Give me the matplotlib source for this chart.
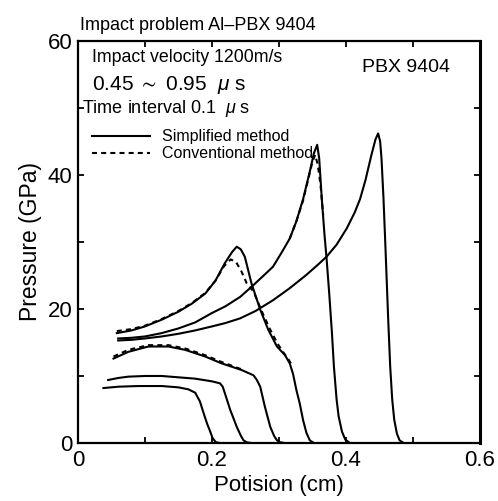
import matplotlib
matplotlib.use('Agg')
import matplotlib.pyplot as plt
from matplotlib.ticker import MultipleLocator

plt.rcParams['font.family'] = ['Liberation Sans', 'DejaVu Sans']
plt.rcParams['mathtext.fontset'] = 'custom'
plt.rcParams['mathtext.rm'] = 'Liberation Sans'
plt.rcParams['mathtext.it'] = 'Liberation Sans:italic'
plt.rcParams['mathtext.fallback'] = 'stixsans'

# simplified method, t = 0.45 ... 0.95 us
x_045 = [0.038, 0.060, 0.090, 0.125, 0.150, 0.165, 0.175, 0.182, 0.188, 0.193, 0.197, 0.201, 0.206, 0.212]
p_045 = [8.2, 8.4, 8.5, 8.5, 8.3, 8.0, 7.5, 6.2, 4.3, 2.8, 1.8, 0.7, 0.1, 0.0]

x_055 = [0.045, 0.060, 0.075, 0.100, 0.125, 0.150, 0.175, 0.200, 0.212, 0.216, 0.219, 0.227, 0.237, 0.243, 0.247, 0.252, 0.258]
p_055 = [9.4, 9.7, 9.9, 10.0, 10.0, 9.8, 9.6, 9.2, 8.9, 8.4, 7.5, 5.0, 2.4, 1.1, 0.4, 0.1, 0.0]

x_065 = [0.053, 0.075, 0.105, 0.135, 0.160, 0.190, 0.214, 0.244, 0.262, 0.267, 0.272, 0.279, 0.287, 0.293, 0.297, 0.302, 0.308]
p_065 = [12.6, 13.6, 14.4, 14.4, 13.9, 12.9, 11.9, 10.9, 10.1, 9.4, 8.4, 5.4, 2.4, 1.0, 0.4, 0.1, 0.0]

x_075 = [0.058, 0.080, 0.100, 0.125, 0.150, 0.170, 0.190, 0.205, 0.219, 0.230, 0.237, 0.243, 0.249, 0.259,
         0.272, 0.284, 0.297, 0.309, 0.316, 0.321, 0.326, 0.331, 0.336, 0.341, 0.346, 0.352]
p_075 = [16.4, 16.8, 17.4, 18.4, 19.6, 20.8, 22.3, 24.2, 26.8, 28.5, 29.3, 28.9, 27.8, 23.8,
         19.9, 16.9, 14.4, 13.1, 11.9, 10.3, 7.9, 5.9, 3.4, 1.5, 0.4, 0.0]

x_085 = [0.060, 0.080, 0.100, 0.125, 0.150, 0.175, 0.200, 0.220, 0.242, 0.259, 0.274, 0.291, 0.305, 0.316,
         0.326, 0.336, 0.346, 0.352, 0.357, 0.360, 0.364, 0.368, 0.371, 0.375, 0.379, 0.382, 0.386, 0.389,
         0.394, 0.399, 0.406]
p_085 = [15.6, 15.7, 15.9, 16.4, 17.1, 18.0, 19.4, 20.4, 21.8, 23.3, 24.7, 26.3, 28.6, 30.5,
         33.1, 36.4, 40.5, 43.2, 44.5, 42.5, 36.3, 31.0, 27.6, 22.3, 16.5, 11.4, 6.5, 4.0,
         1.7, 0.5, 0.0]

x_095 = [0.060, 0.080, 0.100, 0.125, 0.150, 0.175, 0.200, 0.220, 0.242, 0.265, 0.291, 0.316, 0.341, 0.358,
         0.371, 0.386, 0.401, 0.413, 0.421, 0.429, 0.438, 0.444, 0.448, 0.451, 0.453, 0.456, 0.459, 0.463,
         0.466, 0.469, 0.472, 0.476, 0.480, 0.486]
p_095 = [15.3, 15.4, 15.6, 15.9, 16.3, 16.8, 17.4, 17.9, 18.6, 19.7, 21.3, 23.1, 25.1, 26.6,
         27.8, 29.6, 32.0, 34.4, 36.4, 39.2, 43.0, 45.3, 46.2, 45.0, 42.5, 36.5, 29.0, 18.5,
         11.4, 6.5, 3.5, 1.4, 0.4, 0.0]

# conventional method (only where it separates from the simplified one)
xc_065 = [0.053, 0.075, 0.105, 0.135, 0.160, 0.190, 0.214, 0.244]
pc_065 = [12.9, 13.9, 14.6, 14.6, 14.1, 13.1, 12.1, 11.0]

xc_075 = [0.058, 0.080, 0.100, 0.125, 0.150, 0.170, 0.190, 0.205, 0.218, 0.228, 0.236, 0.244, 0.252, 0.262,
          0.275, 0.287, 0.298, 0.306, 0.314, 0.320]
pc_075 = [16.7, 17.0, 17.5, 18.5, 19.7, 20.9, 22.4, 24.2, 26.4, 27.4, 27.0, 25.6, 23.8, 22.6,
          19.5, 16.9, 14.8, 13.6, 12.5, 11.5]

xc_085 = [0.316, 0.326, 0.336, 0.344, 0.350, 0.354, 0.358, 0.362, 0.366]
pc_085 = [30.5, 33.1, 36.2, 39.5, 42.0, 43.0, 41.5, 38.5, 34.0]

simplified = [(x_045, p_045), (x_055, p_055), (x_065, p_065),
              (x_075, p_075), (x_085, p_085), (x_095, p_095)]
conventional = [(xc_065, pc_065), (xc_075, pc_075), (xc_085, pc_085)]

fig = plt.figure(figsize=(4.98, 5.01), dpi=100)
ax = fig.add_axes([0.1566, 0.1158, 0.8072, 0.8024])

lw = 1.5
for xs, ps in simplified:
    ax.plot(xs, ps, color='black', lw=lw, solid_joinstyle='round')
for xs, ps in conventional:
    ax.plot(xs, ps, color='black', lw=lw, dashes=(2.4, 2.0))

ax.set_xlim(0, 0.6)
ax.set_ylim(0, 60)
ax.xaxis.set_major_locator(MultipleLocator(0.2))
ax.xaxis.set_minor_locator(MultipleLocator(0.1))
ax.yaxis.set_major_locator(MultipleLocator(20))
ax.yaxis.set_minor_locator(MultipleLocator(10))
ax.xaxis.set_major_formatter(plt.FuncFormatter(lambda v, _: '0' if v == 0 else f'{v:.1f}'))
ax.tick_params(which='both', direction='in', length=4, width=1.3,
               top=True, right=True, labelsize=16)
ax.tick_params(axis='x', pad=5)
ax.tick_params(axis='y', pad=4)
for s in ax.spines.values():
    s.set_linewidth(1.6)
ax.spines['right'].set_linewidth(2.2)

ax.set_xlabel('Potision (cm)', fontsize=16, labelpad=3)
ax.set_ylabel('Pressure (GPa)', fontsize=16.5, labelpad=4)

fig.text(0.161, 0.950, 'Impact problem Al\u2013PBX 9404', fontsize=13, va='center', ha='left')
ax.text(0.035, 0.960, 'Impact velocity 1200m/s', fontsize=12.8, transform=ax.transAxes, va='center')
ax.text(0.035, 0.891, '0.45 $\\sim$ 0.95  $\\mathit{\u03bc}$ s', fontsize=15, transform=ax.transAxes, va='center')
ax.text(0.010, 0.833, 'Time interval 0.1  $\\mathit{\u03bc}$ s', fontsize=13, transform=ax.transAxes, va='center')
ax.text(0.706, 0.935, 'PBX 9404', fontsize=14, transform=ax.transAxes, va='center')

# legend drawn by hand
ax.plot([0.034, 0.179], [0.763, 0.763], color='black', lw=lw, transform=ax.transAxes)
ax.plot([0.034, 0.179], [0.721, 0.721], color='black', lw=lw, dashes=(2.4, 2.0), transform=ax.transAxes)
ax.text(0.208, 0.763, 'Simplified method', fontsize=11.5, transform=ax.transAxes, va='center')
ax.text(0.208, 0.721, 'Conventional method', fontsize=11.5, transform=ax.transAxes, va='center')

plt.savefig('out.png', dpi=100)
